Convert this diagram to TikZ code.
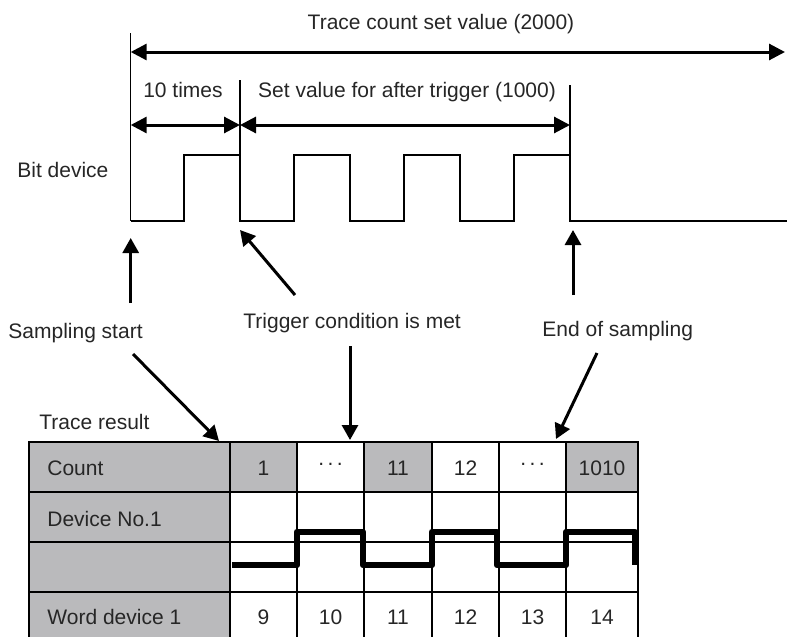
\documentclass[tikz,border=0pt]{standalone}
\usepackage{fontspec}
\setmainfont{Liberation Sans}
\usetikzlibrary{arrows.meta}
\definecolor{cellgray}{RGB}{186,186,188}
\definecolor{inkgray}{RGB}{38,38,38}
\newcommand{\skipdots}{\raisebox{4.8pt}{.\hspace{1.7pt}.\hspace{1.7pt}.}}

\begin{document}
\begin{tikzpicture}[
    x=0.5pt, y=-0.5pt,
    font=\fontsize{10.5}{12.6}\selectfont,
    lbl/.style={inner sep=0pt, anchor=base, text=inkgray},
    lblw/.style={lbl, anchor=base west},
    arrow/.style={-{Triangle[length=7.5pt, width=8pt]}, line width=1.5pt},
    span/.style={{Triangle[length=8pt, width=8pt]}-{Triangle[length=8pt, width=8pt]}, line width=1.5pt},
    wave/.style={line width=0.65pt},
    grid/.style={line width=1pt, line cap=rect},
    tracewave/.style={line width=3.3pt, line join=round}
  ]
    \useasboundingbox (0,0) rectangle (787,637);

    % timing chart
    \node[lbl] (total) at (441,29) {Trace count set value (2000)};
    \node[lbl] (pre) at (183,97) {10 times};
    \node[lbl] (post) at (407,97) {Set value for after trigger (1000)};
    \node[lblw] (bit) at (17,177) {Bit device};
    \coordinate (sampTop) at (130.7,33);
    \coordinate (trigTop) at (240,80);
    \coordinate (stopTop) at (570,85);
    \draw[wave] (sampTop) -- (130.7,221);
    \draw[wave] (trigTop) -- (240,155);
    \draw[wave] (stopTop) -- (570,155);
    \draw[wave] (130.7,221) foreach \r in {184,294,404,514} { -- (\r,221) -- (\r,155) -- ({\r+56},155) -- ({\r+56},221) } -- (787,221);
    \draw[span] (130.7,52) -- (785,52);
    \draw[span] (130.7,125) -- (240,125);
    \draw[span] (240,125) -- (570,125);

    % events
    \node[lblw] (start) at (8,338) {Sampling start};
    \node[lblw] (trig) at (243,328) {Trigger condition is met};
    \node[lblw] (stop) at (542,336) {End of sampling};
    \node[lblw] (result) at (39,429) {Trace result};
    \coordinate (startTail) at (130.7,303);
    \coordinate (startTip) at (130.7,238);
    \coordinate (trigTail) at (295,295);
    \coordinate (trigTip) at (240,230);
    \coordinate (stopTail) at (573,295);
    \coordinate (stopTip) at (573,230);
    \draw[arrow] (startTail) -- (startTip);
    \draw[arrow] (trigTail) -- (trigTip);
    \draw[arrow] (stopTail) -- (stopTip);
    \coordinate (startOut) at (133,354);
    \coordinate (startIn) at (219,441);
    \coordinate (trigOut) at (350,346);
    \coordinate (trigIn) at (350,440);
    \coordinate (stopOut) at (597,353);
    \coordinate (stopIn) at (556,439);
    \draw[arrow] (startOut) -- (startIn);
    \draw[arrow] (trigOut) -- (trigIn);
    \draw[arrow] (stopOut) -- (stopIn);

    % trace result table
    \fill[cellgray] (29,442) rectangle (230,645);
    \foreach \a/\b in {230/297, 364/432, 566/638}
      \fill[cellgray] (\a,442) rectangle (\b,492);
    \foreach \y in {442,492,542,592}
      \draw[grid] (29,\y) -- (638,\y);
    \foreach \x in {29,230,297,364,432,499,566,638}
      \draw[grid] (\x,442) -- (\x,650);
    \node[lblw] (count) at (47,475) {Count};
    \node[lblw] (dev) at (47,526) {Device No.1};
    \node[lblw] (word) at (47,624) {Word device 1};
    \foreach \x/\t [count=\i] in {263.5/1, 330.5/\skipdots, 398/11, 465.5/12, 532.5/\skipdots, 602/1010}
      \node[lbl] (c\i) at (\x,475) {\t};
    \foreach \x/\t [count=\i] in {263.5/9, 330.5/10, 398/11, 465.5/12, 532.5/13, 602/14}
      \node[lbl] (w\i) at (\x,624) {\t};
    \draw[tracewave] (232,565) foreach \r/\f in {297/363, 432/497, 566/635} { -- (\r,565) -- (\r,532) -- (\f,532) -- (\f,565) };
  \end{tikzpicture}
\end{document}
